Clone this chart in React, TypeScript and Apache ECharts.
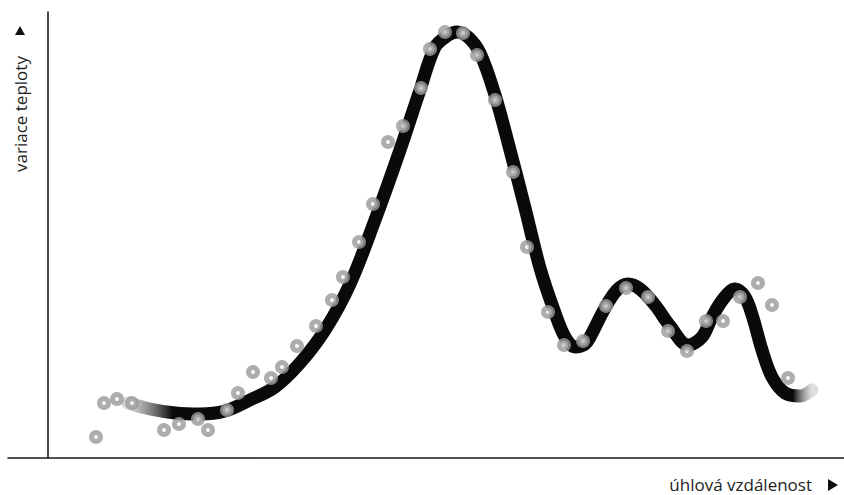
import React, { useEffect, useRef } from "react";
import * as echarts from "echarts";

// Units: x = angular distance (arbitrary), y = temperature variation (arbitrary)
const curveX = [80, 102, 127, 152, 177, 202, 227, 252, 277, 302, 327, 352, 372, 387, 399, 409, 420, 432, 447, 462, 477, 492, 507, 517, 527, 537, 542, 557, 569, 580, 592, 607, 622, 640, 654, 664, 676, 687, 697, 705, 714, 724, 737, 752, 764];
const curveY = [55, 49, 45, 44, 47, 58, 71, 95, 128, 174, 238, 308, 368, 411, 422, 426, 421, 405, 363, 308, 250, 190, 145, 121, 111, 114, 121, 150, 168, 174, 169, 153, 132, 113, 121, 141, 160, 169, 161, 140, 108, 81, 65, 62, 68];

const pointsX = [48, 56, 69, 84, 116, 131, 150, 160, 179, 190, 205, 223, 234, 249, 268, 284, 295, 311, 325, 340, 355, 373, 382, 397, 415, 429, 447, 465, 479, 500, 516, 535, 558, 578, 600, 620, 639, 658, 675, 692, 710, 724, 740];
const pointsY = [21, 55, 59, 55, 28, 34, 39, 28, 48, 65, 86, 80, 91, 112, 132, 158, 181, 216, 254, 316, 332, 370, 409, 426, 425, 403, 358, 286, 211, 146, 113, 117, 152, 170, 161, 127, 107, 137, 137, 161, 175, 153, 80];

const yLabel = "variace teploty";
const xLabel = "úhlová vzdálenost";

export default function App() {
  const ref = useRef<HTMLDivElement>(null);
  useEffect(() => {
    if (!ref.current) return;
    const chart = echarts.init(ref.current, null, { renderer: "svg" });
    const lineData = curveX.map((x, i) => [x, curveY[i]]);
    const pointData = pointsX.map((x, i) => [x, pointsY[i]]);
    chart.setOption({
      animation: false,
      backgroundColor: "#ffffff",
      grid: { left: 8, right: 0, top: 12, bottom: 37 },
      xAxis: {
        type: "value",
        min: -40,
        max: 796,
        axisLine: { show: true, onZero: false, lineStyle: { color: "#1a1a1a", width: 1.6 } },
        axisTick: { show: false },
        axisLabel: { show: false },
        splitLine: { show: false },
      },
      yAxis: {
        type: "value",
        min: 0,
        max: 446,
        axisLine: { show: true, onZero: true, lineStyle: { color: "#1a1a1a", width: 1.6 } },
        axisTick: { show: false },
        axisLabel: { show: false },
        splitLine: { show: false },
      },
      graphic: [
        {
          type: "text",
          x: 20,
          y: 114,
          rotation: Math.PI / 2,
          style: {
            text: yLabel,
            fill: "#222222",
            font: '17px "Open Sans"',
            textAlign: "center",
            textVerticalAlign: "middle",
          },
        },
        {
          type: "polygon",
          shape: { points: [[15, 35], [25, 35], [20, 26]] },
          style: { fill: "#111111" },
        },
        {
          type: "text",
          x: 812,
          y: 484,
          style: {
            text: xLabel,
            fill: "#222222",
            font: '17px "Open Sans"',
            textAlign: "right",
            textVerticalAlign: "middle",
          },
        },
        {
          type: "polygon",
          shape: { points: [[828, 479], [828, 491], [838, 485]] },
          style: { fill: "#111111" },
        },
      ],
      series: [
        {
          type: "line",
          data: lineData,
          smooth: 0.35,
          showSymbol: false,
          symbol: "none",
          z: 2,
          lineStyle: {
            width: 13,
            cap: "round",
            join: "round",
            color: new echarts.graphic.LinearGradient(0, 0, 1, 0, [
              { offset: 0, color: "rgba(175,175,175,0.5)" },
              { offset: 0.065, color: "#0a0a0a" },
              { offset: 0.972, color: "#0a0a0a" },
              { offset: 1, color: "rgba(175,175,175,0.4)" },
            ]),
          },
        },
        {
          type: "scatter",
          data: pointData,
          symbol: "circle",
          symbolSize: 9,
          z: 3,
          itemStyle: {
            color: "#f6f6f6",
            borderColor: "#9a9a9a",
            borderWidth: 5,
          },
        },
      ],
    });
    return () => chart.dispose();
  }, []);
  return (
    <div
      ref={ref}
      style={{ position: "fixed", left: 0, top: 0, width: 844, height: 495 }}
    />
  );
}
